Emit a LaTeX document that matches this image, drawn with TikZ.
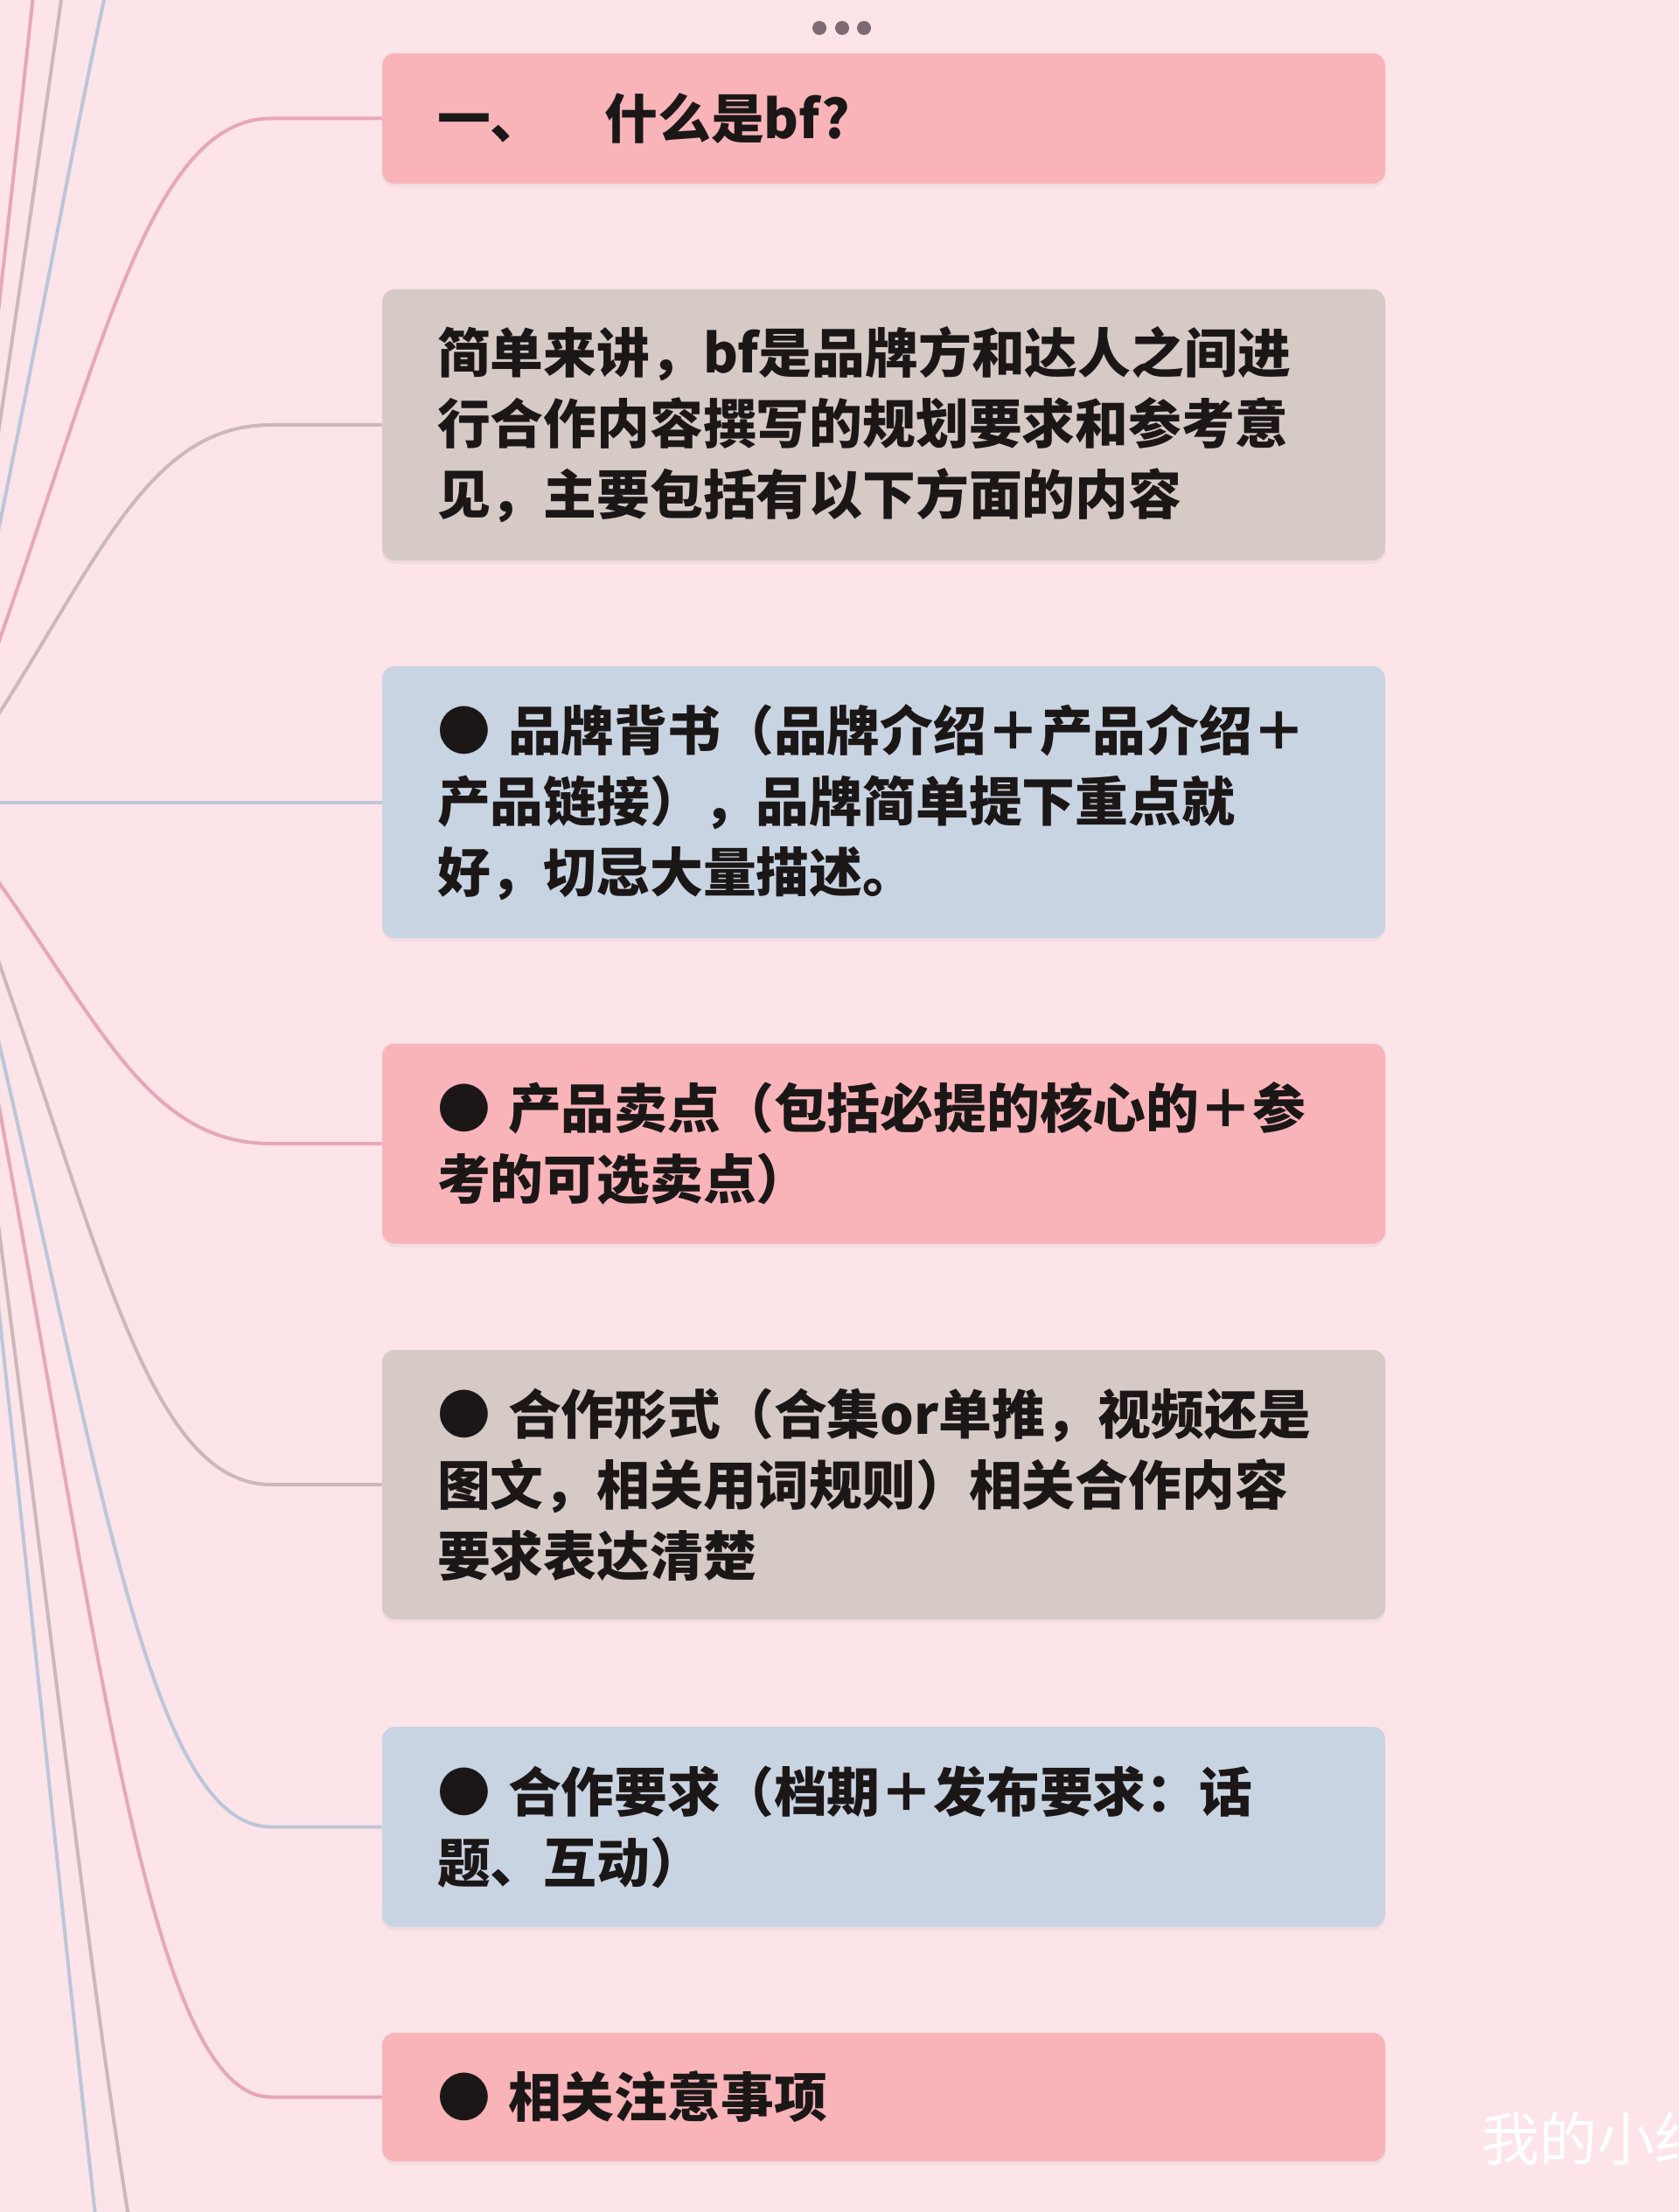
\documentclass[tikz,border=0pt]{standalone}
\usepackage{fontspec}
\setmainfont{Noto Sans CJK SC}
\usetikzlibrary{shadows}
\definecolor{bgpink}{HTML}{FDE4E8}
\definecolor{cardpink}{HTML}{F8B4B9}
\definecolor{cardtaupe}{HTML}{D6CAC6}
\definecolor{cardblue}{HTML}{C9D4E2}
\definecolor{linepink}{HTML}{E6A8B5}
\definecolor{linetaupe}{HTML}{CCB8BB}
\definecolor{lineblue}{HTML}{BCC6D9}
\definecolor{inkdark}{HTML}{1C1717}
\definecolor{dotgrey}{HTML}{7D6A72}
\begin{document}
\begin{tikzpicture}[x=1pt,y=-1pt,
  card/.style={rounded corners=7pt, minimum width=573.5pt, text width=510.5pt,
    inner xsep=31.5pt, inner ysep=0pt, align=left, text=inkdark,
    font=\fontsize{30.4}{40.5}\selectfont\bfseries,
    drop shadow={shadow xshift=0pt, shadow yshift=-2pt, opacity=0.08}},
  pinkcard/.style={card, fill=cardpink},
  taupecard/.style={card, fill=cardtaupe},
  bluecard/.style={card, fill=cardblue},
  branch/.style={line width=2pt}]
\useasboundingbox (0,0) rectangle (960,1265);
\clip (0,0) rectangle (960,1265);
\fill[bgpink] (0,0) rectangle (960,1265);

% root of the map, off the page on the left
\coordinate (root) at (-35,458.75);
\coordinate (up0) at (155,-210);
\coordinate (up1) at (155,-450);
\coordinate (up2) at (155,-750);
\coordinate (down8) at (155,1500);
\coordinate (down9) at (155,1700);

% cards
\node[pinkcard, minimum height=74.5pt] (what) at (505.25,67.75) {一、\hspace{1.15em}什么是bf?};
\node[taupecard, minimum height=155pt] (intro) at (505.25,243) {简单来讲，bf是品牌方和达人之间进\\行合作内容撰写的规划要求和参考意\\见，主要包括有以下方面的内容};
\node[bluecard, minimum height=155.5pt] (brand) at (505.25,458.75) {● 品牌背书（品牌介绍＋产品介绍＋\\产品链接），品牌简单提下重点就\\好，切忌大量描述。};
\node[pinkcard, minimum height=114.5pt] (selling) at (505.25,654) {● 产品卖点（包括必提的核心的＋参\\考的可选卖点）};
\node[taupecard, minimum height=154pt] (form) at (505.25,849) {● 合作形式（合集or单推，视频还是\\图文，相关用词规则）相关合作内容\\要求表达清楚};
\node[bluecard, minimum height=114.5pt] (demand) at (505.25,1044.75) {● 合作要求（档期＋发布要求：话\\题、互动）};
\node[pinkcard, minimum height=73.5pt] (notes) at (505.25,1199.25) {● 相关注意事项};

% branches
\draw[branch, linepink] (root) .. controls (50,-194) and (75,-750) .. (up2);
\draw[branch, linetaupe] (root) .. controls (50,-32) and (75,-450) .. (up1);
\draw[branch, lineblue] (root) .. controls (50,97.6) and (75,-210) .. (up0);
\draw[branch, linepink] (root) .. controls (50,247.6) and (75,67.75) .. (155,67.75) -- (what.west);
\draw[branch, linetaupe] (root) .. controls (50,342.3) and (75,243) .. (155,243) -- (intro.west);
\draw[branch, lineblue] (root) -- (brand.west);
\draw[branch, linepink] (root) .. controls (50,564.2) and (75,654) .. (155,654) -- (selling.west);
\draw[branch, linetaupe] (root) .. controls (50,669.5) and (75,849) .. (155,849) -- (form.west);
\draw[branch, lineblue] (root) .. controls (50,775.2) and (75,1044.75) .. (155,1044.75) -- (demand.west);
\draw[branch, linepink] (root) .. controls (50,858.6) and (75,1199.25) .. (155,1199.25) -- (notes.west);
\draw[branch, linetaupe] (root) .. controls (50,1021) and (75,1500) .. (down8);
\draw[branch, lineblue] (root) .. controls (50,1129) and (75,1700) .. (down9);

% handle dots and watermark
\fill[dotgrey] (468.5,16) circle[radius=4pt];
\fill[dotgrey] (481.5,16) circle[radius=4pt];
\fill[dotgrey] (494,16) circle[radius=4pt];
\node[anchor=west, inner sep=0pt, text=white, font=\fontsize{33}{33}\selectfont] (mark) at (847,1223) {我的小红书};
\end{tikzpicture}
\end{document}
